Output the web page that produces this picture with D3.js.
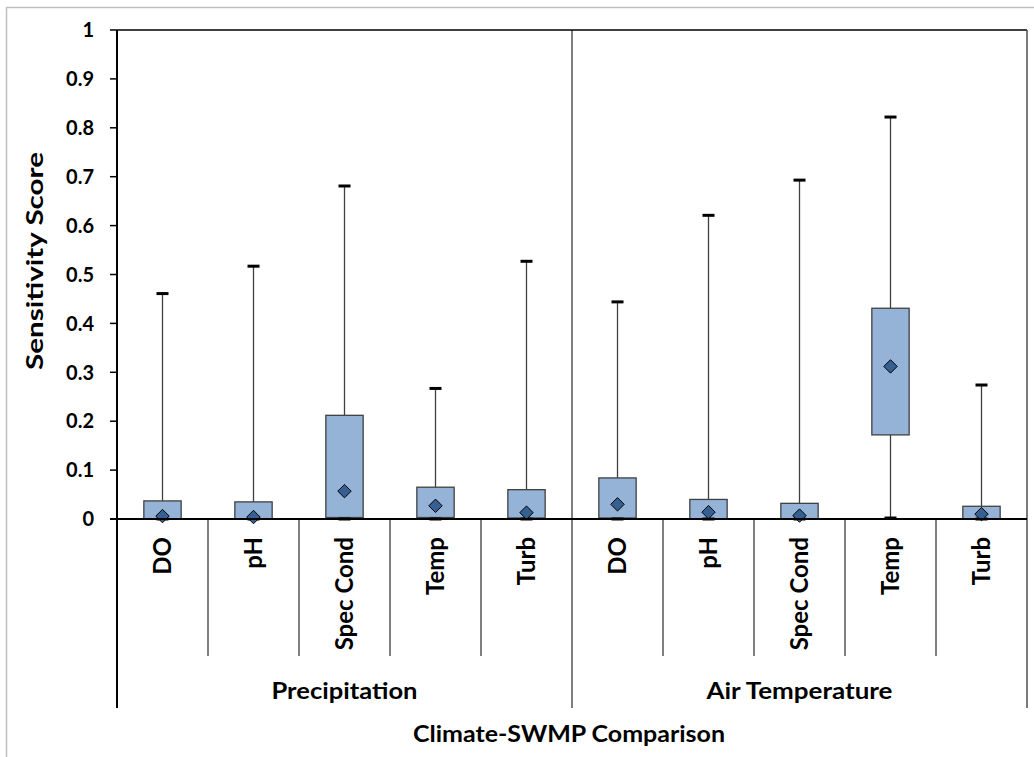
<!DOCTYPE html>
<html><head><meta charset="utf-8">
<script src="https://cdn.jsdelivr.net/npm/d3@7"></script>
<style>body{margin:0;background:#fff}svg{display:block}text{font-family:Lato,"Open Sans",sans-serif;font-weight:bold;fill:#000}</style>
</head><body><svg id="c" width="1034" height="757"></svg>
<script>
const groups = ["Precipitation", "Air Temperature"];
const params = ["DO", "pH", "Spec Cond", "Temp", "Turb"];
const mins  = [0, 0, 0, 0, 0,      0, 0, 0, 0.002, 0];
const q1s   = [0, 0, 0.003, 0.003, 0.002,   0.002, 0, 0, 0.172, 0];
const q3s   = [0.037, 0.035, 0.212, 0.065, 0.060,   0.084, 0.040, 0.032, 0.431, 0.026];
const maxs  = [0.461, 0.517, 0.681, 0.267, 0.527,   0.444, 0.621, 0.693, 0.822, 0.274];
const means = [0.006, 0.004, 0.057, 0.027, 0.013,   0.030, 0.014, 0.007, 0.312, 0.010];
const yTicks = [0, 0.1, 0.2, 0.3, 0.4, 0.5, 0.6, 0.7, 0.8, 0.9, 1];
const yTickLabels = ["0", "0.1", "0.2", "0.3", "0.4", "0.5", "0.6", "0.7", "0.8", "0.9", "1"];

const svg = d3.select("#c");
const L = 117, R = 1027, T = 30, B = 519, catBottom = 656, grpBottom = 708;

// outer border
svg.append("rect").attr("x", 6.5).attr("y", 7.5).attr("width", 1100).attr("height", 900)
  .attr("fill", "none").attr("stroke", "#bfbfbf").attr("stroke-width", 1.5);

const keys = d3.range(groups.length * params.length);
const x = d3.scaleBand().domain(keys).range([L, R]).padding(0);
const xg = d3.scaleBand().domain(groups).range([L, R]).padding(0);
const y = d3.scaleLinear().domain([0, 1]).range([B, T]);
const bw = x.bandwidth() * 0.41;
const cx = i => x(i) + x.bandwidth() / 2;

// frame
svg.append("line").attr("x1", L).attr("x2", R).attr("y1", y(1)).attr("y2", y(1)).attr("stroke", "#000").attr("stroke-width", 1.5);
svg.append("line").attr("x1", R).attr("x2", R).attr("y1", y(1)).attr("y2", grpBottom).attr("stroke", "#333").attr("stroke-width", 1.3);
svg.append("line").attr("x1", xg("Air Temperature")).attr("x2", xg("Air Temperature")).attr("y1", y(1)).attr("y2", grpBottom).attr("stroke", "#000").attr("stroke-width", 1);

// category separators
keys.slice(1).forEach(i => {
  if (i % params.length === 0) return;
  svg.append("line").attr("x1", x(i)).attr("x2", x(i)).attr("y1", B).attr("y2", catBottom).attr("stroke", "#000").attr("stroke-width", 1);
});

// whiskers
const g = svg.append("g");
keys.forEach(i => {
  g.append("line").attr("x1", cx(i)).attr("x2", cx(i)).attr("y1", y(q3s[i])).attr("y2", y(maxs[i])).attr("stroke", "#404040").attr("stroke-width", 1.3);
  g.append("line").attr("x1", cx(i)).attr("x2", cx(i)).attr("y1", y(q1s[i])).attr("y2", y(mins[i])).attr("stroke", "#404040").attr("stroke-width", 1.3);
});
// boxes
g.selectAll("rect.box").data(keys).join("rect").attr("class", "box")
  .attr("x", i => cx(i) - bw / 2).attr("width", bw)
  .attr("y", i => y(q3s[i])).attr("height", i => y(q1s[i]) - y(q3s[i]))
  .attr("fill", "#95b3d7").attr("stroke", "#404040").attr("stroke-width", 1.3);
// caps
keys.forEach(i => {
  g.append("line").attr("x1", cx(i) - 6).attr("x2", cx(i) + 6).attr("y1", y(maxs[i])).attr("y2", y(maxs[i])).attr("stroke", "#000").attr("stroke-width", 3);
  g.append("line").attr("x1", cx(i) - 6).attr("x2", cx(i) + 6).attr("y1", y(mins[i])).attr("y2", y(mins[i])).attr("stroke", "#000").attr("stroke-width", 3);
});

// y axis
svg.append("line").attr("x1", L).attr("x2", L).attr("y1", y(1)).attr("y2", grpBottom).attr("stroke", "#000").attr("stroke-width", 2);
svg.append("line").attr("x1", L - 7).attr("x2", R).attr("y1", y(0)).attr("y2", y(0)).attr("stroke", "#000").attr("stroke-width", 2);
yTicks.forEach((t, k) => {
  svg.append("line").attr("x1", L - 7).attr("x2", L).attr("y1", y(t)).attr("y2", y(t)).attr("stroke", "#000").attr("stroke-width", 1.5);
  svg.append("text").attr("x", 94).attr("y", y(t)).attr("dy", "0.36em").attr("text-anchor", "end")
    .attr("font-size", 20).text(yTickLabels[k]);
});

// means (diamonds)
const sym = d3.symbol().type(d3.symbolDiamond2).size(115);
g.append("g").selectAll("path").data(keys).join("path")
  .attr("transform", i => `translate(${cx(i)},${y(means[i])})`)
  .attr("d", sym).attr("fill", "#376092").attr("stroke", "#000").attr("stroke-width", 1);

// category labels
keys.forEach(i => {
  const px = cx(i) + 8.5, py = 537;
  svg.append("text").attr("transform", `translate(${px},${py}) rotate(-90)`)
    .attr("text-anchor", "end").attr("font-size", 24).text(params[i % params.length]);
});

// group labels
const gl = [146, 186];
groups.forEach((gname, k) => {
  svg.append("text").attr("x", xg(gname) + xg.bandwidth() / 2).attr("y", 699).attr("text-anchor", "middle")
    .attr("font-size", 23).attr("textLength", gl[k]).attr("lengthAdjust", "spacingAndGlyphs").text(gname);
});

// axis titles
svg.append("text").attr("x", 569).attr("y", 742).attr("text-anchor", "middle").attr("font-size", 23)
  .attr("textLength", 312).attr("lengthAdjust", "spacingAndGlyphs").text("Climate-SWMP Comparison");
svg.append("text").attr("transform", "translate(43,261) rotate(-90)").attr("text-anchor", "middle").attr("font-size", 23)
  .attr("textLength", 218).attr("lengthAdjust", "spacingAndGlyphs").text("Sensitivity Score");
</script></body></html>
